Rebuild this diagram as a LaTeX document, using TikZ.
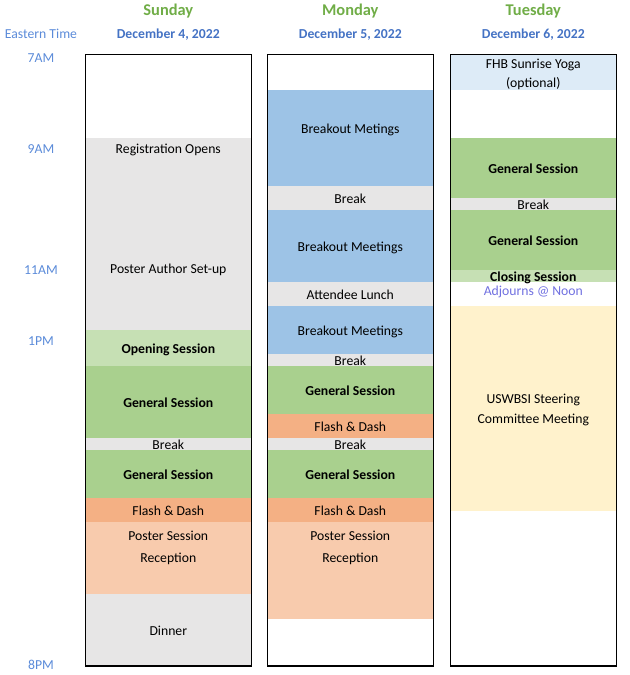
\documentclass[tikz,border=0pt]{standalone}
\usepackage{fontspec}
\setmainfont{Carlito}
\definecolor{brk}{HTML}{E7E6E6}
\definecolor{brkout}{HTML}{9DC3E6}
\definecolor{gen}{HTML}{A9D08E}
\definecolor{opn}{HTML}{C6E0B4}
\definecolor{flash}{HTML}{F4B084}
\definecolor{poster}{HTML}{F8CBAD}
\definecolor{yoga}{HTML}{DDEBF7}
\definecolor{steer}{HTML}{FFF2CC}
\definecolor{dayc}{HTML}{70AD47}
\definecolor{datec}{HTML}{4472C4}
\definecolor{timec}{HTML}{5B8BD9}
\definecolor{noonc}{HTML}{7070E0}

\begin{document}
\begin{tikzpicture}[x=1bp,y=-1bp,
  body/.style={font=\fontsize{13.7bp}{16bp}\selectfont, inner sep=0pt, anchor=base, yshift=-5.4bp},
  bodyb/.style={body, font=\fontsize{13.7bp}{16bp}\selectfont\bfseries},
  day/.style={font=\fontsize{16.4bp}{19bp}\selectfont\bfseries, text=dayc, inner sep=0pt, anchor=base, yshift=-5.8bp},
  date/.style={bodyb, text=datec},
  time/.style={body, text=timec},
  box/.style={draw=black, line width=1.2bp}]
  \useasboundingbox (0,0) rectangle (630,675);

  \foreach \l/\t/\b/\c in {
    85.3/137.7/330/brk, 85.3/330/366/opn, 85.3/366/437.7/gen, 85.3/437.7/450/brk,
    85.3/450/497.7/gen, 85.3/497.7/522/flash, 85.3/522/594/poster, 85.3/594/666/brk,
    267.3/90/186/brkout, 267.3/186/210/brk, 267.3/210/282/brkout, 267.3/282/306/brk,
    267.3/306/354/brkout, 267.3/354/366/brk, 267.3/366/414/gen, 267.3/414/438/flash,
    267.3/438/450/brk, 267.3/450/498/gen, 267.3/498/522/flash, 267.3/522/618.7/poster,
    450.3/54.5/90/yoga, 450.3/138/198/gen, 450.3/198/210/brk, 450.3/210/270/gen,
    450.3/270/282/opn, 450.3/306/511/steer} {
    \fill[\c] (\l,\t) rectangle ({\l+166},\b);
  }

  \foreach \l in {85.3,267.3,450.3} {
    \draw[box] (\l,54.5) rectangle ({\l+166},666);
  }

  \foreach \x/\y/\txt [count=\i] in {
    168.3/148/Registration Opens, 168.3/268.3/Poster Author Set-up, 168.3/444.3/Break,
    168.3/510/Flash \& Dash, 168.3/534.7/Poster Session, 168.3/556.7/Reception,
    168.3/630/Dinner,
    350.3/128/Breakout Metings, 350.3/198/Break, 350.3/246.3/Breakout Meetings,
    350.3/294.3/Attendee Lunch, 350.3/330.3/Breakout Meetings, 350.3/360/Break,
    350.3/426/Flash \& Dash, 350.3/444/Break, 350.3/510/Flash \& Dash,
    350.3/534.7/Poster Session, 350.3/556.7/Reception,
    533.3/63/FHB Sunrise Yoga, 533.3/82/(optional), 533.3/204.3/Break,
    533.3/398/USWBSI Steering, 533.3/418/Committee Meeting} {
    \node[body] (ev\i) at (\x,\y) {\txt};
  }

  \foreach \x/\y/\txt [count=\i] in {
    168.3/348.3/Opening Session, 168.3/402.3/General Session, 168.3/474.3/General Session,
    350.3/390/General Session, 350.3/474/General Session,
    533.3/168/General Session, 533.3/240.3/General Session, 533.3/276.3/Closing Session} {
    \node[bodyb] (sess\i) at (\x,\y) {\txt};
  }

  \node[body, text=noonc] (noon) at (533.3,289.7) {Adjourns @ Noon};

  \foreach \x/\d/\dt [count=\i] in {
    168.3/Sunday/December 4{,} 2022, 350.3/Monday/December 5{,} 2022,
    533.3/Tuesday/December 6{,} 2022} {
    \node[day] (day\i) at (\x,10) {\d};
    \node[date] (date\i) at (\x,33.5) {\dt};
  }

  \node[time] (zone) at (41,33.5) {Eastern Time};
  \foreach \y/\h [count=\i] in {57/7AM, 148/9AM, 269/11AM, 340/1PM, 664/8PM} {
    \node[time] (hr\i) at (41,\y) {\h};
  }
\end{tikzpicture}
\end{document}
